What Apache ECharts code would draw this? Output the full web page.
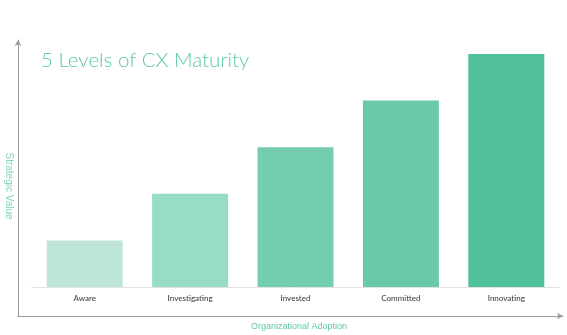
<!DOCTYPE html>
<html><head><meta charset="utf-8">
<script src="https://cdn.jsdelivr.net/npm/echarts@6/dist/echarts.min.js"></script>
<style>html,body{margin:0;padding:0;background:#fff}#c{width:567px;height:335px}</style>
</head><body><div id="c"></div>
<script>
const categories = ['Aware', 'Investigating', 'Invested', 'Committed', 'Innovating'];
const values = [1, 2, 3, 4, 5];
const barColors = ['#bde6d8', '#98dcc3', '#74cdae', '#69caa9', '#50c198'];
const titleText = '5 Levels of CX Maturity';
const xName = 'Organizational Adoption';
const yName = 'Strategic Value';

const chart = echarts.init(document.getElementById('c'), null, {renderer: 'canvas'});
chart.setOption({
  animation: false,
  backgroundColor: '#fff',
  title: {
    text: titleText, left: 36, top: 45,
    textStyle: {color: '#5cc9a1', fontSize: 20.5, fontWeight: 300, fontFamily: 'Lato'}
  },
  grid: [
    {left: 32, right: 8, top: 54, bottom: 48, outerBoundsMode: 'none', containLabel: false},
    {left: 18, right: 4, top: 40, bottom: 19, outerBoundsMode: 'none', containLabel: false}
  ],
  xAxis: [
    {gridIndex: 0, type: 'category', data: categories,
     axisLine: {lineStyle: {color: '#e2e2e2', width: 1}},
     axisTick: {show: false},
     axisLabel: {color: '#444', fontSize: 8, fontFamily: 'Lato', fontWeight: 500, margin: 7}},
    {gridIndex: 1, type: 'value', min: 0, max: 1,
     axisLine: {show: true, symbol: ['none', 'arrow'], symbolSize: [5, 6], lineStyle: {color: '#999', width: 1}},
     axisTick: {show: false}, axisLabel: {show: false}, splitLine: {show: false},
     name: xName, nameLocation: 'middle', nameGap: 6,
     nameTextStyle: {color: '#5cc9a1', fontSize: 9, fontFamily: 'Liberation Sans', padding: [0, 0, 0, 17]}}
  ],
  yAxis: [
    {gridIndex: 0, type: 'value', min: 0, max: 5, show: false},
    {gridIndex: 1, type: 'value', min: 0, max: 1,
     axisLine: {show: true, symbol: ['none', 'arrow'], symbolSize: [5, 6], lineStyle: {color: '#999', width: 1}},
     axisTick: {show: false}, axisLabel: {show: false}, splitLine: {show: false},
     name: yName, nameLocation: 'middle', nameRotate: -90, nameGap: 4,
     nameTextStyle: {color: '#7fd6b6', fontSize: 10, fontFamily: 'Liberation Sans', padding: [0, 0, 0, 16]}}
  ],
  series: [{
    type: 'bar', xAxisIndex: 0, yAxisIndex: 0,
    barWidth: 76,
    data: values.map((v, i) => ({value: v, itemStyle: {color: barColors[i]}}))
  }]
});
</script></body></html>
